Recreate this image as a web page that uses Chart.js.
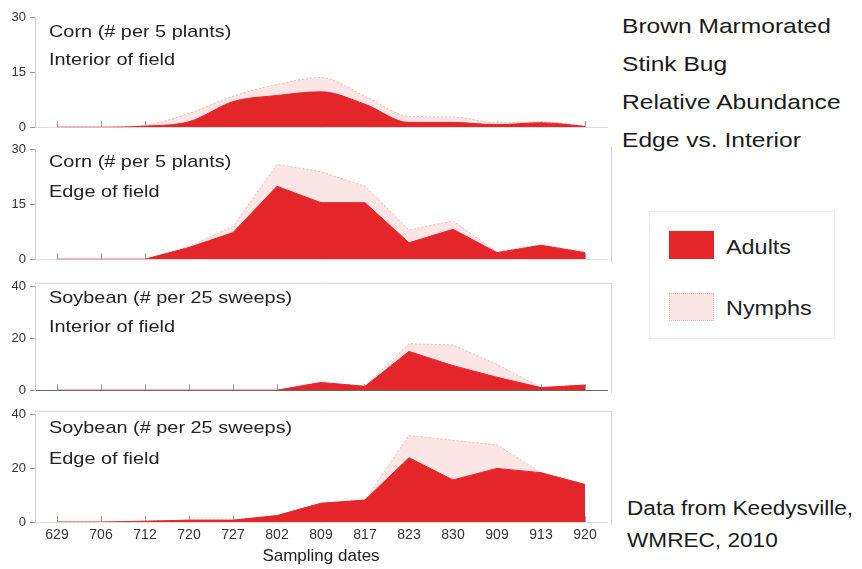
<!DOCTYPE html>
<html>
<head>
<meta charset="utf-8">
<script src="https://cdn.jsdelivr.net/npm/chart.js@4.4.1/dist/chart.umd.min.js"></script>
<style>
    body { margin: 0; background: #fff; width: 862px; height: 569px; overflow: hidden; position: relative;
           font-family: "Liberation Sans", Arial, sans-serif; color: #222; }
    canvas { position: absolute; left: 0; }
    .t, .r, .lt { transform: scaleX(1.17); transform-origin: 0 0; white-space: nowrap; position: absolute; }
    .t { left: 49px; font-size: 17px; line-height: 18px; }
    .r { left: 622px; font-size: 21px; line-height: 24px; color: #1a1a1a; }
    .legend { position: absolute; left: 649px; top: 211px; width: 186px; height: 128px;
              border: 1px solid #ececec; box-sizing: border-box; }
    .sw { position: absolute; left: 19px; width: 45px; height: 28px; box-sizing: border-box; }
    .lt { left: 76px; font-size: 20px; line-height: 24px; }
</style>
</head>
<body>
<canvas id="p1" width="612" height="133" style="top:6px"></canvas>
<canvas id="p2" width="612" height="133" style="top:138px"></canvas>
<canvas id="p3" width="612" height="127" style="top:275px"></canvas>
<canvas id="p4" width="612" height="167" style="top:403px"></canvas>

<div class="t" style="top:23px">Corn (# per 5 plants)</div>
<div class="t" style="top:51px">Interior of field</div>
<div class="t" style="top:153px">Corn (# per 5 plants)</div>
<div class="t" style="top:183px">Edge of field</div>
<div class="t" style="top:289px">Soybean (# per 25 sweeps)</div>
<div class="t" style="top:318px">Interior of field</div>
<div class="t" style="top:419px">Soybean (# per 25 sweeps)</div>
<div class="t" style="top:450px">Edge of field</div>

<div class="r" style="top:14px">Brown Marmorated</div>
<div class="r" style="top:52px">Stink Bug</div>
<div class="r" style="top:90px">Relative Abundance</div>
<div class="r" style="top:128px">Edge vs. Interior</div>

<div class="legend">
    <div class="sw" style="top:19px; background:#e4262a"></div>
    <div class="lt" style="top:23px">Adults</div>
    <div class="sw" style="top:81px; background:#fbe6e6; border:1px dotted #eeb4b4"></div>
    <div class="lt" style="top:84px">Nymphs</div>
</div>

<div class="r" style="left:627px; top:496px; font-size:20px; transform: scaleX(1.13)">Data from Keedysville,</div>
<div class="r" style="left:627px; top:528px; font-size:20px; transform: scaleX(1.13)">WMREC, 2010</div>

<script>
const dates = ['629', '706', '712', '720', '727', '802', '809', '817', '823', '830', '909', '913', '920']

// Corn, interior of field (# per 5 plants)
const cornInteriorAdults = [0, 0, 0.3, 1.5, 7, 8.7, 9.7, 6.3, 1.3, 1.3, 0.7, 1.2, 0.2]
const cornInteriorNymphs = [0, 0, 0.2, 2.3, 1.5, 3, 3.9, 2.2, 1.7, 1.5, 0.6, 0.3, 0.2]

// Corn, edge of field
const cornEdgeAdults = [0, 0, 0, 3.2, 7.3, 20, 15.5, 15.5, 4.5, 8.2, 1.8, 3.8, 1.8]
const cornEdgeNymphs = [0, 0, 0, 0.3, 1.7, 6, 8.5, 4.5, 3.5, 2.3, 0.2, 0.2, 0.2]

// Soybean, interior of field (# per 25 sweeps)
const soyInteriorAdults = [0, 0, 0, 0, 0, 0, 3, 1.5, 15, 9.5, 5, 1, 2]
const soyInteriorNymphs = [0, 0, 0, 0, 0, 0, 0, 0, 3, 8, 5, 0, 0]

// Soybean, edge of field
const soyEdgeAdults = [0, 0, 0.3, 0.7, 0.7, 2.4, 7, 8.2, 24, 15.7, 20, 18.4, 14]
const soyEdgeNymphs = [0, 0, 0, 0, 0, 0, 0, 0, 8.3, 14.8, 8.8, 0, 0]

const cornTicks = [0, 15, 30]
const soyTicks = [0, 20, 40]

const framePlugin = {
    id: 'frame',
    afterDraw(chart, args, opts) {
        const a = chart.chartArea, ctx = chart.ctx
        ctx.save()
        ctx.strokeStyle = '#d4d4d4'
        ctx.lineWidth = 1
        ctx.beginPath()
        if (opts.top) { ctx.moveTo(a.left, a.top - 3.5); ctx.lineTo(a.right + 5, a.top - 3.5) }
        if (opts.right) { ctx.moveTo(a.right + 4.5, a.top - 3); ctx.lineTo(a.right + 4.5, a.bottom + 3) }
        ctx.stroke()
        ctx.restore()
    }
}

function makePanel(id, adults, nymphs, ticks, showX, smooth, frame, baseColor) {
    return new Chart(document.getElementById(id), {
        type: 'line',
        data: {
            labels: dates,
            datasets: [{
                label: 'Adults',
                data: adults,
                backgroundColor: '#e4262a',
                borderColor: '#e4262a',
                borderWidth: 1,
                fill: 'origin'
            }, {
                label: 'Nymphs',
                data: nymphs,
                backgroundColor: '#fbe5e5',
                borderColor: '#f0b8b8',
                borderWidth: 1,
                borderDash: [2, 2],
                fill: '-1'
            }]
        },
        options: {
            responsive: false,
            animation: false,
            layout: { padding: { top: 8, right: 5, bottom: showX ? 3 : 0 } },
            elements: {
                point: { radius: 0 },
                line: { tension: 0, cubicInterpolationMode: smooth ? 'monotone' : 'default' }
            },
            scales: {
                x: {
                    offset: true,
                    grid: { drawOnChartArea: false, tickLength: -6, color: '#9a9a9a' },
                    border: { color: baseColor },
                    ticks: {
                        display: showX, autoSkip: false, maxRotation: 0, padding: 11,
                        color: '#333', font: { family: 'Liberation Sans', size: 14 }
                    },
                    title: {
                        display: showX, text: 'Sampling dates', color: '#222', padding: 0,
                        font: { family: 'Liberation Sans', size: 17 }
                    },
                    afterFit(axis) { axis.height = showX ? 45 : 6 }
                },
                y: {
                    stacked: true,
                    min: ticks[0],
                    max: ticks[ticks.length - 1],
                    afterBuildTicks(axis) { axis.ticks = ticks.map(v => ({ value: v })) },
                    grid: { drawOnChartArea: false, tickLength: 5, color: '#999' },
                    border: { color: '#cfcfcf' },
                    ticks: { padding: 4, color: '#333', font: { family: 'Liberation Sans', size: 13 } },
                    afterFit(axis) { axis.width = 35 }
                }
            },
            plugins: {
                legend: { display: false },
                tooltip: { enabled: false },
                frame: frame
            }
        },
        plugins: [framePlugin]
    })
}

makePanel('p1', cornInteriorAdults, cornInteriorNymphs, cornTicks, false, true, { top: false, right: false }, '#dcdcdc')
makePanel('p2', cornEdgeAdults, cornEdgeNymphs, cornTicks, false, false, { top: false, right: true }, '#dcdcdc')
makePanel('p3', soyInteriorAdults, soyInteriorNymphs, soyTicks, false, false, { top: true, right: true }, '#666')
makePanel('p4', soyEdgeAdults, soyEdgeNymphs, soyTicks, true, false, { top: true, right: true }, '#dcdcdc')
</script>
</body>
</html>
